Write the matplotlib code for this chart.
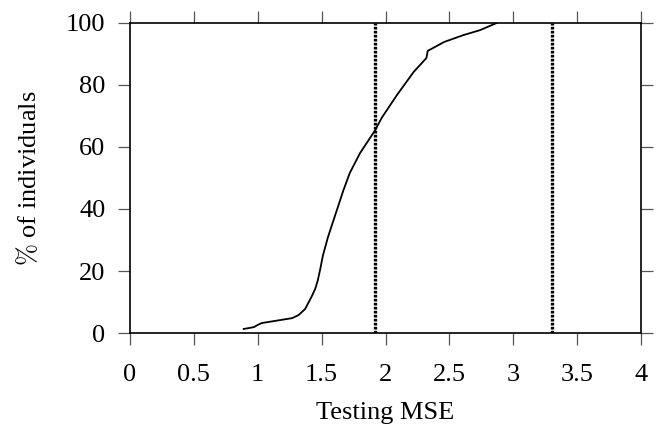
import matplotlib
matplotlib.use('Agg')
import matplotlib.pyplot as plt

# 数据
mse = [0.89, 0.97, 1.00, 1.03, 1.27, 1.32, 1.37, 1.42, 1.45, 1.47, 1.49,
       1.51, 1.55, 1.61, 1.67, 1.72, 1.80, 1.92, 1.97, 2.09, 2.22, 2.32,
       2.33, 2.46, 2.61, 2.74, 2.87]
pct = [1.3, 1.9, 2.6, 3.2, 4.8, 5.8, 7.7, 11.6, 14.3, 17.0, 20.8,
       25.0, 31.0, 38.5, 46.0, 51.6, 58.0, 65.5, 69.4, 76.8, 84.2, 88.7,
       91.0, 93.9, 96.1, 97.7, 100.0]
vlines = [1.92, 3.30]
xticks = [0, 0.5, 1, 1.5, 2, 2.5, 3, 3.5, 4]
xticklabels = ['0', '0.5', '1', '1.5', '2', '2.5', '3', '3.5', '4']
yticks = [0, 20, 40, 60, 80, 100]

matplotlib.rcParams['font.family'] = 'Liberation Serif'
matplotlib.rcParams['font.size'] = 19
matplotlib.rcParams['mathtext.fontset'] = 'cm'

fig = plt.figure(figsize=(6.63, 4.24), dpi=100)
ax = fig.add_axes([0.196, 0.2146, 0.771, 0.7312])

ax.plot(mse, pct, color='black', lw=1.3)
for v in vlines:
    ax.axvline(v, color='black', lw=2.4, linestyle=(0, (0.8, 0.4)))

ax.set_xlim(0, 4)
ax.set_ylim(0, 100)
ax.set_xticks(xticks)
ax.set_xticklabels(xticklabels)
ax.set_yticks(yticks)
for s in ax.spines.values():
    s.set_linewidth(1.2)
ax.tick_params(direction='out', length=8.6, width=0.9, color='#555555',
               top=True, right=True)
ax.tick_params(axis='x', pad=14)
ax.tick_params(axis='y', pad=9)

ax.set_xlabel('Testing MSE', labelpad=11)
ax.set_ylabel(r'$\%$ of individuals', labelpad=18)

plt.savefig('out.png', dpi=100)
